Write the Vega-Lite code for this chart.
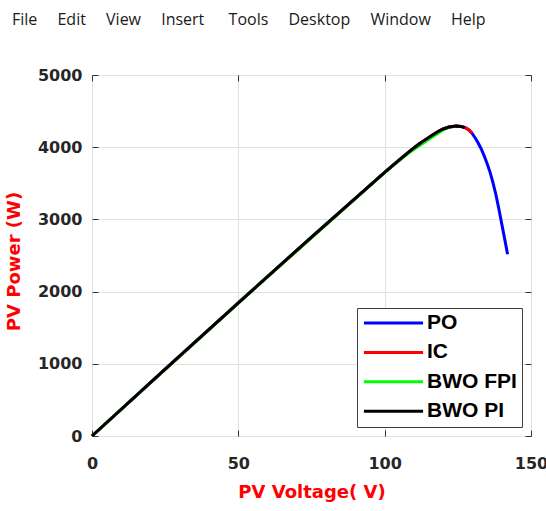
{
  "$schema": "https://vega.github.io/schema/vega-lite/v6.json",
  "width": 439,
  "height": 361,
  "autosize": {"type": "none"},
  "padding": {"left": 92, "top": 75, "right": 15, "bottom": 75},
  "background": "white",
  "title": {
    "text": "File\u2003\u00a0Edit\u2003\u00a0View\u2003\u00a0Insert\u2003\u00a0\u00a0Tools\u2003\u00a0Desktop\u2003\u00a0Window\u2003\u00a0Help",
    "anchor": "start",
    "frame": "group",
    "dx": -80,
    "offset": 23,
    "baseline": "bottom",
    "font": "Open Sans",
    "fontSize": 16,
    "fontWeight": "normal",
    "color": "#1a1a1a"
  },
  "config": {
    "view": {"stroke": "#333333", "strokeWidth": 1},
    "axis": {
      "labelFont": "DejaVu Sans",
      "labelFontSize": 16,
      "labelFontWeight": "bold",
      "labelColor": "#262626",
      "labelFlush": false,
      "format": "d",
      "titleFont": "DejaVu Sans",
      "titleFontSize": 18,
      "titleFontWeight": "bold",
      "titleColor": "#ff0000",
      "gridColor": "#e0e0e0",
      "gridWidth": 1,
      "domain": false,
      "tickColor": "#333333",
      "tickSize": -6,
      "labelPadding": 16
    },
    "legend": {
      "orient": "bottom-right",
      "offset": 9,
      "title": null,
      "symbolType": "stroke",
      "symbolSize": 3500,
      "symbolStrokeWidth": 3,
      "clipHeight": 20,
      "rowPadding": 8.4,
      "labelFont": "Liberation Sans",
      "labelFontSize": 21,
      "labelFontWeight": "bold",
      "labelColor": "#000000",
      "labelOffset": 2,
      "padding": 5,
      "strokeColor": "#404040",
      "fillColor": "white"
    }
  },
  "data": {
    "values": [
      {"series": "PO", "v": 0, "p": 0},
      {"series": "PO", "v": 25, "p": 925},
      {"series": "PO", "v": 50, "p": 1845},
      {"series": "PO", "v": 75, "p": 2755},
      {"series": "PO", "v": 100, "p": 3650},
      {"series": "PO", "v": 104, "p": 3790},
      {"series": "PO", "v": 108, "p": 3925},
      {"series": "PO", "v": 110, "p": 3990},
      {"series": "PO", "v": 112, "p": 4050},
      {"series": "PO", "v": 114, "p": 4105},
      {"series": "PO", "v": 116, "p": 4160},
      {"series": "PO", "v": 118, "p": 4210},
      {"series": "PO", "v": 120, "p": 4252},
      {"series": "PO", "v": 122, "p": 4280},
      {"series": "PO", "v": 124.5, "p": 4292},
      {"series": "PO", "v": 126, "p": 4288},
      {"series": "PO", "v": 127, "p": 4277},
      {"series": "PO", "v": 128, "p": 4260},
      {"series": "PO", "v": 129, "p": 4232},
      {"series": "PO", "v": 130, "p": 4185},
      {"series": "PO", "v": 131, "p": 4125},
      {"series": "PO", "v": 132, "p": 4055},
      {"series": "PO", "v": 133, "p": 3975},
      {"series": "PO", "v": 134, "p": 3880},
      {"series": "PO", "v": 135, "p": 3775},
      {"series": "PO", "v": 136, "p": 3655},
      {"series": "PO", "v": 137, "p": 3510},
      {"series": "PO", "v": 138, "p": 3345},
      {"series": "PO", "v": 139, "p": 3150},
      {"series": "PO", "v": 140, "p": 2940},
      {"series": "PO", "v": 141, "p": 2730},
      {"series": "PO", "v": 142, "p": 2518},

      {"series": "IC", "v": 0, "p": 0},
      {"series": "IC", "v": 50, "p": 1845},
      {"series": "IC", "v": 100, "p": 3650},
      {"series": "IC", "v": 104, "p": 3790},
      {"series": "IC", "v": 108, "p": 3925},
      {"series": "IC", "v": 110, "p": 3990},
      {"series": "IC", "v": 112, "p": 4050},
      {"series": "IC", "v": 114, "p": 4105},
      {"series": "IC", "v": 116, "p": 4160},
      {"series": "IC", "v": 118, "p": 4210},
      {"series": "IC", "v": 120, "p": 4252},
      {"series": "IC", "v": 122, "p": 4280},
      {"series": "IC", "v": 124.5, "p": 4292},
      {"series": "IC", "v": 126, "p": 4288},
      {"series": "IC", "v": 127, "p": 4277},
      {"series": "IC", "v": 128, "p": 4260},
      {"series": "IC", "v": 129, "p": 4232},
      {"series": "IC", "v": 129.8, "p": 4196},

      {"series": "BWO FPI", "v": 0, "p": 0},
      {"series": "BWO FPI", "v": 50, "p": 1845},
      {"series": "BWO FPI", "v": 100, "p": 3650},
      {"series": "BWO FPI", "v": 104, "p": 3785},
      {"series": "BWO FPI", "v": 108, "p": 3912},
      {"series": "BWO FPI", "v": 110, "p": 3967},
      {"series": "BWO FPI", "v": 112, "p": 4025},
      {"series": "BWO FPI", "v": 114, "p": 4080},
      {"series": "BWO FPI", "v": 116, "p": 4135},
      {"series": "BWO FPI", "v": 118, "p": 4185},
      {"series": "BWO FPI", "v": 120, "p": 4240},
      {"series": "BWO FPI", "v": 122, "p": 4278},
      {"series": "BWO FPI", "v": 124.5, "p": 4292},

      {"series": "BWO PI", "v": 0, "p": 0},
      {"series": "BWO PI", "v": 25, "p": 925},
      {"series": "BWO PI", "v": 50, "p": 1845},
      {"series": "BWO PI", "v": 75, "p": 2755},
      {"series": "BWO PI", "v": 100, "p": 3650},
      {"series": "BWO PI", "v": 104, "p": 3790},
      {"series": "BWO PI", "v": 108, "p": 3925},
      {"series": "BWO PI", "v": 110, "p": 3990},
      {"series": "BWO PI", "v": 112, "p": 4050},
      {"series": "BWO PI", "v": 114, "p": 4105},
      {"series": "BWO PI", "v": 116, "p": 4160},
      {"series": "BWO PI", "v": 118, "p": 4210},
      {"series": "BWO PI", "v": 120, "p": 4252},
      {"series": "BWO PI", "v": 122, "p": 4280},
      {"series": "BWO PI", "v": 124.5, "p": 4292},
      {"series": "BWO PI", "v": 126, "p": 4288},
      {"series": "BWO PI", "v": 127.4, "p": 4271}
    ]
  },
  "layer": [
    {
      "transform": [{"filter": "datum.series === 'PO'"}],
      "mark": {"type": "line", "strokeWidth": 3},
      "encoding": {
        "x": {"field": "v", "type": "quantitative", "title": "PV Voltage( V)",
              "scale": {"domain": [0, 150], "nice": false},
              "axis": {"values": [0, 50, 100, 150], "labelPadding": 25, "titlePadding": 12}},
        "y": {"field": "p", "type": "quantitative", "title": "PV Power (W)",
              "scale": {"domain": [0, 5000], "nice": false},
              "axis": {"values": [0, 1000, 2000, 3000, 4000, 5000], "labelPadding": 16, "titlePadding": 14, "titleY": 186}},
        "color": {"field": "series", "type": "nominal",
                  "scale": {"domain": ["PO", "IC", "BWO FPI", "BWO PI"], "range": ["#0000ff", "#ff0000", "#00ff00", "#000000"]}}
      }
    },
    {
      "transform": [{"filter": "datum.series === 'IC'"}],
      "mark": {"type": "line", "strokeWidth": 3},
      "encoding": {
        "x": {"field": "v", "type": "quantitative",
              "axis": {"orient": "top", "values": [0, 50, 100, 150], "labels": false, "grid": false, "title": null}},
        "y": {"field": "p", "type": "quantitative",
              "axis": {"orient": "right", "values": [0, 1000, 2000, 3000, 4000, 5000], "labels": false, "grid": false, "title": null}},
        "color": {"field": "series", "type": "nominal"}
      }
    },
    {
      "transform": [{"filter": "datum.series === 'BWO FPI'"}],
      "mark": {"type": "line", "strokeWidth": 3},
      "encoding": {
        "x": {"field": "v", "type": "quantitative", "axis": null},
        "y": {"field": "p", "type": "quantitative", "axis": null},
        "color": {"field": "series", "type": "nominal"}
      }
    },
    {
      "transform": [{"filter": "datum.series === 'BWO PI'"}],
      "mark": {"type": "line", "strokeWidth": 3},
      "encoding": {
        "x": {"field": "v", "type": "quantitative", "axis": null},
        "y": {"field": "p", "type": "quantitative", "axis": null},
        "color": {"field": "series", "type": "nominal"}
      }
    }
  ],
  "resolve": {"axis": {"x": "independent", "y": "independent"}}
}
